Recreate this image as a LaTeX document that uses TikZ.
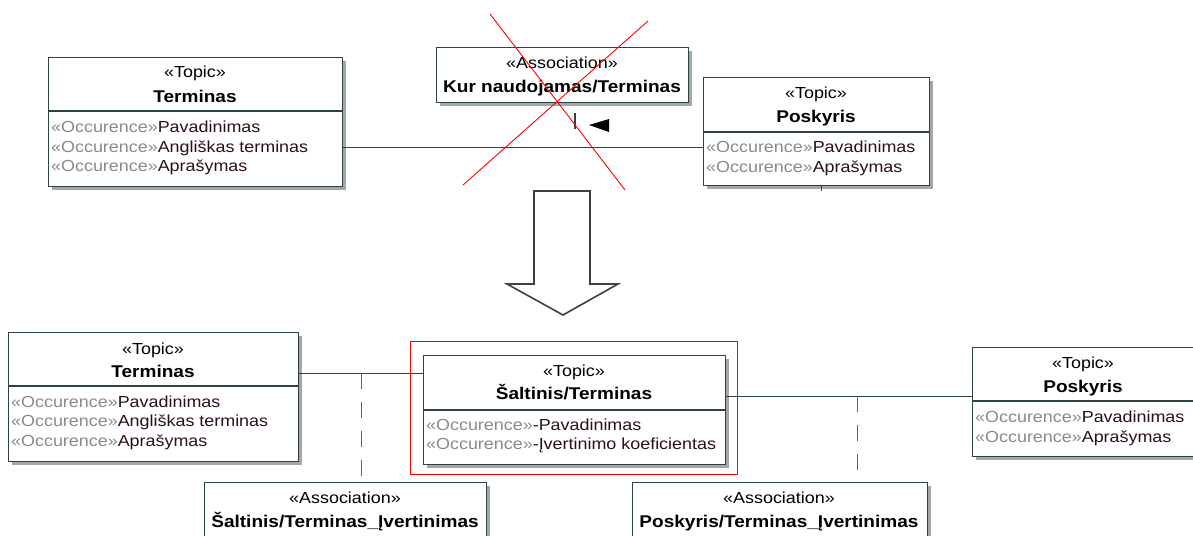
\documentclass[tikz,border=0pt]{standalone}
\usepackage{fontspec}
\setmainfont{Liberation Sans}[FakeStretch=1.12]
\usetikzlibrary{shadows}
\definecolor{edge}{HTML}{2E4444}
\definecolor{stereo}{HTML}{8A8A8A}
\definecolor{itemtxt}{HTML}{2A1212}
\tikzset{
  umlbox/.style={draw=edge, line width=1.3pt, fill=white, inner sep=0pt,
    anchor=north west,
    drop shadow={shadow xshift=3pt, shadow yshift=-3pt, fill=black!35, opacity=1}},
  sterea/.style={anchor=mid, inner sep=0pt, yshift=-3pt, font=\fontsize{16}{18}\selectfont},
  title/.style={anchor=mid, inner sep=0pt, yshift=-3pt, font=\fontsize{17}{19}\selectfont\bfseries},
  item/.style={anchor=mid west, inner sep=0pt, yshift=-3pt, font=\fontsize{16}{18}\selectfont, text=itemtxt},
  assocline/.style={draw=edge, line width=1pt},
  depline/.style={draw=edge!80, line width=1pt, dash pattern=on 16pt off 13pt},
  bigarrow/.style={draw=black!75, line width=1.6pt, fill=white, line join=miter},
  cross/.style={draw=red, line width=0.9pt},
}
\newcommand{\occ}[1]{\textcolor{stereo}{«Occurence»}#1}
\begin{document}
\begin{tikzpicture}[x=1pt,y=-1pt]
\useasboundingbox (0,0) rectangle (1193,535);
\clip (0,0) rectangle (1193,535);

% ---------- upper model ----------
\node[umlbox, minimum width=294pt, minimum height=129pt] (t1) at (48,57) {};
\draw[edge, line width=1.2pt] (t1.west |- 0,111) -- (t1.east |- 0,111);
\node[sterea] (t1s) at (195,72) {«Topic»};
\node[title]  (t1n) at (195,97) {Terminas};
\node[item] (t1a) at (51,127) {\occ{Pavadinimas}};
\node[item] (t1b) at (51,147) {\occ{Angliškas terminas}};
\node[item] (t1c) at (51,166) {\occ{Aprašymas}};

\node[umlbox, minimum width=252pt, minimum height=55pt] (a1) at (436,47) {};
\node[sterea] (a1s) at (562,63) {«Association»};
\node[title]  (a1n) at (562,87) {Kur naudojamas/Terminas};

\node[umlbox, minimum width=226pt, minimum height=108pt] (p1) at (703,77) {};
\draw[edge, line width=1.2pt] (p1.west |- 0,132) -- (p1.east |- 0,132);
\node[sterea] (p1s) at (816,93) {«Topic»};
\node[title]  (p1n) at (816,117) {Poskyris};
\node[item] (p1a) at (706,147) {\occ{Pavadinimas}};
\node[item] (p1b) at (706,167) {\occ{Aprašymas}};

% association between the upper topics
\draw[assocline] (t1.east |- 0,147) -- (p1.west |- 0,147);
\coordinate (tickt) at (575,113);
\coordinate (tickb) at (575,129);
\draw[edge, line width=1.2pt] (tickt) -- (tickb);
\coordinate (dirtip) at (589,125);
\fill[black] (dirtip) -- (609,119) -- (609,132) -- cycle;
\coordinate (ptick) at (821,191);
\draw[edge, line width=1pt] (p1.south -| ptick) -- (ptick);

% strike-out of the association
\coordinate (x1a) at (490,14);
\coordinate (x1b) at (625,190);
\coordinate (x2a) at (648,21);
\coordinate (x2b) at (463,185);
\draw[cross] (x1a) -- (x1b);
\draw[cross] (x2a) -- (x2b);

% transformation arrow
\draw[bigarrow] (534,191) -- (590,191) -- (590,284) -- (618,284) -- (563,315)
  -- (507,284) -- (534,284) -- cycle;

% ---------- lower model ----------
\node[umlbox, minimum width=290pt, minimum height=129pt] (t2) at (8,332) {};
\draw[edge, line width=1.2pt] (t2.west |- 0,386) -- (t2.east |- 0,386);
\node[sterea] (t2s) at (153,349) {«Topic»};
\node[title]  (t2n) at (153,372) {Terminas};
\node[item] (t2a) at (11,402) {\occ{Pavadinimas}};
\node[item] (t2b) at (11,421) {\occ{Angliškas terminas}};
\node[item] (t2c) at (11,441) {\occ{Aprašymas}};

\node[draw=red, line width=1pt, minimum width=327pt, minimum height=133pt,
      inner sep=0pt, anchor=north west] (hl) at (410,341) {};

\node[umlbox, minimum width=302pt, minimum height=109pt] (s2) at (423,355) {};
\draw[edge, line width=1.2pt] (s2.west |- 0,410) -- (s2.east |- 0,410);
\node[sterea] (s2s) at (574,371) {«Topic»};
\node[title]  (s2n) at (574,394) {Šaltinis/Terminas};
\node[item] (s2a) at (426,425) {\occ{-Pavadinimas}};
\node[item] (s2b) at (426,444) {\occ{-Įvertinimo koeficientas}};

\node[umlbox, minimum width=226pt, minimum height=109pt] (p2) at (972,347) {};
\draw[edge, line width=1.2pt] (p2.west |- 0,401) -- (p2.east |- 0,401);
\node[sterea] (p2s) at (1083,363) {«Topic»};
\node[title]  (p2n) at (1083,387) {Poskyris};
\node[item] (p2a) at (975,417) {\occ{Pavadinimas}};
\node[item] (p2b) at (975,437) {\occ{Aprašymas}};

\node[umlbox, minimum width=282pt, minimum height=70pt] (a2) at (204,482) {};
\node[sterea] (a2s) at (345,498) {«Association»};
\node[title]  (a2n) at (345,522) {Šaltinis/Terminas\_Įvertinimas};

\node[umlbox, minimum width=295pt, minimum height=70pt] (a3) at (632,482) {};
\node[sterea] (a3s) at (779,498) {«Association»};
\node[title]  (a3n) at (779,522) {Poskyris/Terminas\_Įvertinimas};

% associations of the new topic and their association classes
\coordinate (j1) at (361,373);
\coordinate (j2) at (857,396);
\draw[assocline] (t2.east |- j1) -- (s2.west |- j1);
\draw[assocline] (s2.east |- j2) -- (p2.west |- j2);
\draw[depline] (j1) -- (a2.north -| j1);
\draw[depline] (j2) -- (a3.north -| j2);
\end{tikzpicture}
\end{document}
